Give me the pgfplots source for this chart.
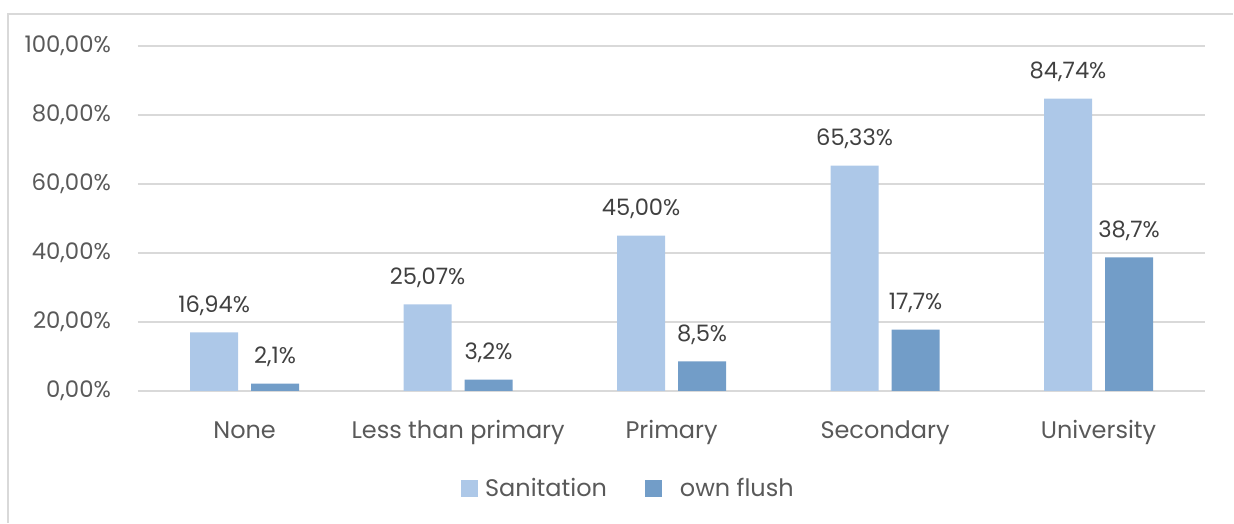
\documentclass[border=0pt]{standalone}
\usepackage{pgfplots}
\pgfplotsset{compat=1.18}
\usepackage{fontspec}
\setmainfont{Poppins}
\definecolor{sanc}{HTML}{ADC8E8}
\definecolor{ownc}{HTML}{729DC8}
\definecolor{gridc}{HTML}{D9D9D9}
\definecolor{txtc}{HTML}{595959}
\definecolor{lblc}{HTML}{404040}
\begin{document}
\begin{tikzpicture}
\path (0pt,0pt) rectangle (617pt,261.5pt);
\draw[gridc, line width=0.75pt] (4pt,0pt) -- (4pt,254.5pt) -- (617pt,254.5pt);
\begin{axis}[
  at={(69pt,66pt)}, anchor=south west,
  scale only axis, width=534pt, height=172.5pt,
  xmin=-0.5, xmax=4.5, ymin=0, ymax=100,
  ybar=6.5pt, bar width=24pt,
  axis line style={draw=none},
  tick style={draw=none},
  ymajorgrids, grid style={gridc, line width=0.75pt},
  xtick={0,1,2,3,4},
  xticklabels={None, Less than primary, Primary, Secondary, University},
  ytick={0,20,40,60,80,100},
  yticklabels={{0,00\%},{20,00\%},{40,00\%},{60,00\%},{80,00\%},{100,00\%}},
  tick label style={text=txtc},
  xticklabel style={font=\fontsize{12}{14}\selectfont, anchor=base, yshift=-19.5pt},
  yticklabel style={font=\fontsize{11.4}{13}\selectfont, anchor=east, xshift=-10pt},
  every node near coord/.append style={font=\fontsize{11.3}{13}\selectfont, text=lblc, anchor=base, yshift=10pt},
  legend style={at={(0.4605,-0.284)}, anchor=center, draw=none, fill=none,
    legend columns=2, font=\fontsize{12}{14}\selectfont, text=txtc,
    /tikz/every even column/.append style={column sep=17pt}},
  legend image code/.code={\fill[#1] (0pt,-4.25pt) rectangle (8.5pt,4.25pt);},
]
\addplot[fill=sanc, draw=none,
  nodes near coords={\pgfmathprintnumber[fixed, fixed zerofill, precision=2, use comma, assume math mode=true]{\pgfplotspointmeta}\%}]
  coordinates {(0,16.94) (1,25.07) (2,45.00) (3,65.33) (4,84.74)};
\addplot[fill=ownc, draw=none,
  nodes near coords={\pgfmathprintnumber[fixed, fixed zerofill, precision=1, use comma, assume math mode=true]{\pgfplotspointmeta}\%}]
  coordinates {(0,2.1) (1,3.2) (2,8.5) (3,17.7) (4,38.7)};
\legend{\hspace{1.5pt}Sanitation, \hspace{7pt}own flush}
\end{axis}
\end{tikzpicture}
\end{document}
